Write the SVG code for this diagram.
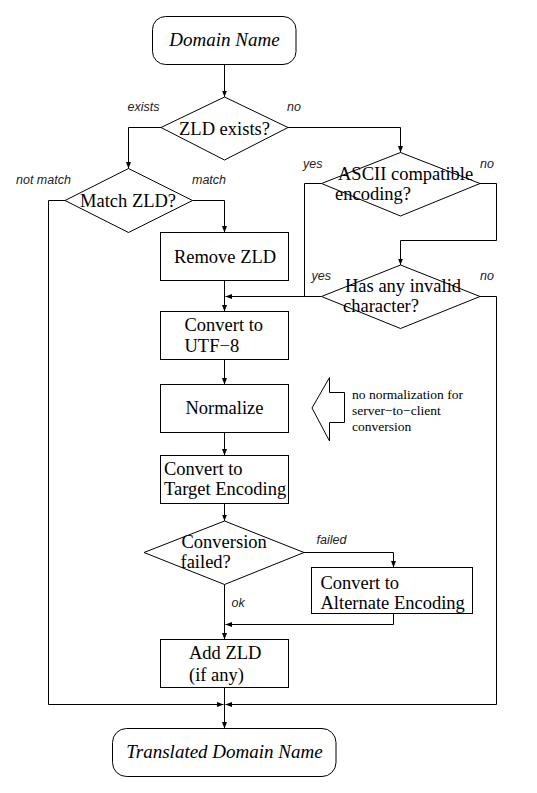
<svg xmlns="http://www.w3.org/2000/svg" width="537" height="793" viewBox="0 0 537 793">
<style>
.shape{fill:none;stroke:#000;stroke-width:1}
.wire{fill:none;stroke:#000;stroke-width:1}
.t{font-family:"Liberation Serif","Times New Roman",serif;font-size:18.5px;fill:#000}
.ti{font-family:"Liberation Serif","Times New Roman",serif;font-size:19px;font-style:italic;fill:#000}
.lbl{font-family:"Liberation Sans",Arial,sans-serif;font-size:12.5px;font-style:italic;fill:#222}
.note{font-family:"Liberation Serif","Times New Roman",serif;font-size:13.5px;fill:#000}
</style>
<defs>
<marker id="ah" markerUnits="userSpaceOnUse" markerWidth="7" markerHeight="6" refX="6.5" refY="3" orient="auto">
<path d="M0,0.5 L6.5,3 L0,5.5 z" fill="#000"/>
</marker>
</defs>
<rect width="537" height="793" fill="#fff"/>

<g id="connectors">
<polyline class="wire" points="224.5,64.5 224.5,97" marker-end="url(#ah)"/>
<polyline class="wire" points="161,127.5 128.5,127.5 128.5,168.5" marker-end="url(#ah)"/>
<polyline class="wire" points="288,127.5 400.5,127.5 400.5,152.5" marker-end="url(#ah)"/>
<polyline class="wire" points="192.5,200.5 224.5,200.5 224.5,232.5" marker-end="url(#ah)"/>
<polyline class="wire" points="65,200.5 48.5,200.5 48.5,704.5 223.5,704.5" marker-end="url(#ah)"/>
<polyline class="wire" points="224.5,280.5 224.5,311.5" marker-end="url(#ah)"/>
<polyline class="wire" points="321.5,183.5 304.5,183.5 304.5,296.5"/>
<polyline class="wire" points="480,183.5 496.5,183.5 496.5,240.5 400.5,240.5 400.5,265" marker-end="url(#ah)"/>
<polyline class="wire" points="321.5,296.5 225.5,296.5" marker-end="url(#ah)"/>
<polyline class="wire" points="480,296.5 496.5,296.5 496.5,704.5 225.5,704.5" marker-end="url(#ah)"/>
<polyline class="wire" points="224.5,359.5 224.5,384.5" marker-end="url(#ah)"/>
<polyline class="wire" points="224.5,432.5 224.5,455.5" marker-end="url(#ah)"/>
<polyline class="wire" points="224.5,503.5 224.5,521" marker-end="url(#ah)"/>
<polyline class="wire" points="304,552.5 393.5,552.5 393.5,567.5" marker-end="url(#ah)"/>
<polyline class="wire" points="393.5,613.5 393.5,624.5 225.5,624.5" marker-end="url(#ah)"/>
<polyline class="wire" points="224.5,584.5 224.5,639.5" marker-end="url(#ah)"/>
<polyline class="wire" points="224.5,687.5 224.5,728.5" marker-end="url(#ah)"/>
<text class="lbl" x="127.5" y="111">exists</text>
<text class="lbl" x="287" y="111">no</text>
<text class="lbl" x="16" y="183.5">not match</text>
<text class="lbl" x="192" y="183.5">match</text>
<text class="lbl" x="303" y="167.5">yes</text>
<text class="lbl" x="480" y="167.5">no</text>
<text class="lbl" x="311.5" y="279.5">yes</text>
<text class="lbl" x="480" y="279.5">no</text>
<text class="lbl" x="316.5" y="543.5">failed</text>
<text class="lbl" x="231.5" y="606.5">ok</text>
</g>

<g id="domain-name">
<rect class="shape" x="152.5" y="16.5" width="143.5" height="48" rx="13"/>
<text class="ti" x="224.5" y="46" text-anchor="middle">Domain Name</text>
</g>

<g id="zld-exists">
<polygon class="shape" points="161,127.5 224.5,97 288,127.5 224.5,160"/>
<text class="t" x="224.5" y="134.5" text-anchor="middle">ZLD exists?</text>
</g>

<g id="match-zld">
<polygon class="shape" points="65,200.5 128.5,168.5 192.5,200.5 128.5,232.5"/>
<text class="t" x="80" y="206.5">Match ZLD?</text>
</g>

<g id="remove-zld">
<rect class="shape" x="160.5" y="232.5" width="128" height="48"/>
<text class="t" x="225" y="263" text-anchor="middle">Remove ZLD</text>
</g>

<g id="ascii-compatible">
<polygon class="shape" points="321.5,183.5 400.5,152.5 480,183.5 400.5,216"/>
<text class="t" x="338" y="179.5">ASCII compatible</text>
<text class="t" x="335" y="199.5">encoding?</text>
</g>

<g id="has-invalid">
<polygon class="shape" points="321.5,296.5 400.5,265 480,296.5 400.5,328.5"/>
<text class="t" x="345" y="291.5">Has any invalid</text>
<text class="t" x="343" y="311.5">character?</text>
</g>

<g id="convert-utf8">
<rect class="shape" x="160.5" y="311.5" width="128" height="48"/>
<text class="t" x="184.5" y="331">Convert to</text>
<text class="t" x="184.5" y="352">UTF−8</text>
</g>

<g id="normalize">
<rect class="shape" x="160.5" y="384.5" width="128" height="48"/>
<text class="t" x="224.5" y="414" text-anchor="middle">Normalize</text>
</g>

<g id="note">
<polygon class="shape" points="312,408 329.5,377.5 329.5,392.5 344.5,392.5 344.5,422.5 329.5,422.5 329.5,441"/>
<text class="note" x="352" y="399">no normalization for</text>
<text class="note" x="352" y="415">server−to−client</text>
<text class="note" x="352" y="431">conversion</text>
</g>

<g id="convert-target">
<rect class="shape" x="160.5" y="455.5" width="128" height="48"/>
<text class="t" x="164" y="474.5">Convert to</text>
<text class="t" x="164" y="494.5">Target Encoding</text>
</g>

<g id="conversion-failed">
<polygon class="shape" points="144,552.5 224.5,521 304,552.5 224.5,584.5"/>
<text class="t" x="181.5" y="547.5">Conversion</text>
<text class="t" x="180.5" y="567.5">failed?</text>
</g>

<g id="convert-alternate">
<rect class="shape" x="311.5" y="567.5" width="161" height="46"/>
<text class="t" x="320.5" y="588.5">Convert to</text>
<text class="t" x="320.5" y="609">Alternate Encoding</text>
</g>

<g id="add-zld">
<rect class="shape" x="160.5" y="639.5" width="128" height="48"/>
<text class="t" x="189" y="659">Add ZLD</text>
<text class="t" x="189" y="681">(if any)</text>
</g>

<g id="translated-domain-name">
<rect class="shape" x="112.5" y="728.5" width="223.5" height="48" rx="14"/>
<text class="ti" x="224.5" y="758" text-anchor="middle">Translated Domain Name</text>
</g>
</svg>
